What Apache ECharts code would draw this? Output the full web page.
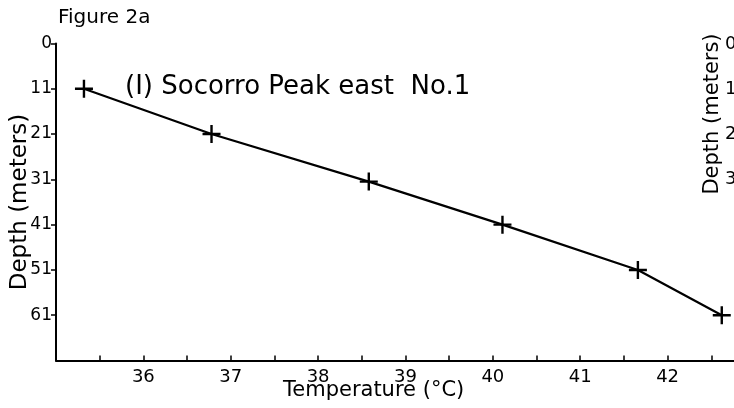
<!DOCTYPE html>
<html>
<head>
<meta charset="utf-8">
<script src="https://cdn.jsdelivr.net/npm/echarts@6/dist/echarts.min.js"></script>
<style>
html,body{margin:0;padding:0;background:#fff;}
#chart{width:734px;height:408px;}
</style>
</head>
<body>
<div id="chart"></div>
<script>
// Data
var temperatures = [35.32, 36.78, 38.58, 40.11, 41.66, 42.62];
var depths = [10, 20, 30.5, 40, 50, 60];
var yTickLabels = ['0', '11', '21', '31', '41', '51', '61'];
var xTickLabels = ['36', '37', '38', '39', '40', '41', '42'];
var rightTickLabels = ['0', '10', '20', '30'];

var FONT = 'DejaVu Sans';
var chart = echarts.init(document.getElementById('chart'), null, {renderer: 'canvas'});

var pts = temperatures.map(function (t, i) { return [t, depths[i]]; });
var plus = 'path://M-1.2,-9 L1.2,-9 L1.2,9 L-1.2,9 Z M-9,-1.2 L9,-1.2 L9,1.2 L-9,1.2 Z';

var rightGraphics = rightTickLabels.map(function (s, i) {
  return {
    type: 'text', left: 725, top: 45 + i * 45 - 10,
    style: {text: s, font: '18px "' + FONT + '"', fill: '#000'}
  };
});

chart.setOption({
  backgroundColor: '#fff',
  animation: false,
  grid: {left: 56, right: 0, top: 43.5, bottom: 47.5, containLabel: false, outerBoundsMode: 'none'},
  xAxis: {
    type: 'value', min: 35, max: 42.76, interval: 0.5, position: 'bottom',
    axisLine: {show: true, onZero: false, lineStyle: {color: '#000', width: 2}},
    axisTick: {show: true, inside: true, length: 5, lineStyle: {color: '#000', width: 1.5}},
    splitLine: {show: false},
    axisLabel: {
      showMinLabel: false, showMaxLabel: false, margin: 8,
      color: '#000', fontFamily: FONT, fontSize: 18,
      formatter: function (v) {
        var s = String(Math.round(v * 10) / 10);
        return xTickLabels.indexOf(s) >= 0 ? s : '';
      }
    }
  },
  yAxis: {
    type: 'value', min: 0, max: 70, interval: 10, inverse: true,
    name: 'Depth (meters)', nameLocation: 'middle', nameRotate: 90, nameGap: 24,
    nameMoveOverlap: false,
    nameTextStyle: {color: '#000', fontFamily: FONT, fontSize: 23},
    axisLine: {show: true, onZero: false, lineStyle: {color: '#000', width: 2}},
    axisTick: {show: true, inside: false, length: 5, lineStyle: {color: '#000', width: 1.5}},
    splitLine: {show: false},
    axisLabel: {
      showMaxLabel: false, margin: 4, color: '#000', fontFamily: FONT, fontSize: 17,
      formatter: function (v) {
        var idx = Math.round(v / 10);
        return yTickLabels[idx] !== undefined ? yTickLabels[idx] : '';
      }
    }
  },
  graphic: [
    {type: 'text', left: 58, top: 8,
     style: {text: 'Figure 2a', font: '20px "' + FONT + '"', fill: '#000'}},
    {type: 'text', left: 125, top: 74,
     style: {text: '(I) Socorro Peak east  No.1', font: '26px "' + FONT + '"', fill: '#000'}},
    {type: 'text', left: 283, top: 380,
     style: {text: 'Temperature (°C)', font: '21px "' + FONT + '"', fill: '#000'}},
    {type: 'text', x: 713, y: 114, rotation: Math.PI / 2,
     style: {text: 'Depth (meters)', font: '21px "' + FONT + '"', fill: '#000',
             align: 'center', verticalAlign: 'middle'}}
  ].concat(rightGraphics),
  series: [{
    type: 'line', data: pts,
    lineStyle: {color: '#000', width: 2.2},
    symbol: plus, symbolSize: 18, symbolKeepAspect: true,
    itemStyle: {color: '#000'},
    z: 3
  }]
});
</script>
</body>
</html>
